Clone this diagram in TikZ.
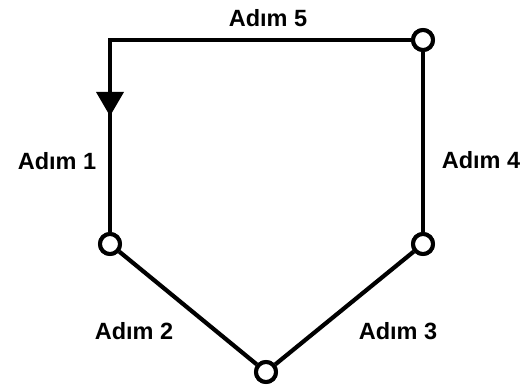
\documentclass[tikz,border=0pt]{standalone}
\usepackage{fontspec}
\setmainfont{Liberation Sans}
\usetikzlibrary{calc}
\begin{document}
\begin{tikzpicture}[x=1pt,y=1pt,
  ln/.style={line width=4.2pt},
  jn/.style={circle,draw,line width=4pt,fill=white,minimum size=20pt,inner sep=0pt},
  lbl/.style={font=\fontsize{23.5}{26}\selectfont\bfseries,inner sep=0pt}]
\useasboundingbox (0,0) rectangle (529,390);
\coordinate (corner) at (110,350);
\node[jn] (c5) at (423,350) {};
\node[jn] (c4) at (423,146) {};
\node[jn] (c1) at (110,146) {};
\node[jn] (cb) at (266,18) {};
\draw[ln] (c5) -- (corner) -- (c1);
\draw[ln] (c1) -- (cb);
\draw[ln] (cb) -- (c4);
\draw[ln] (c4) -- (c5);
\fill ($(corner)+(-14,-52)$) -- ($(corner)+(14,-52)$) -- ($(corner)+(0,-76)$) -- cycle;
\node[jn] at (c5) {};
\node[jn] at (c4) {};
\node[jn] at (c1) {};
\node[jn] at (cb) {};
\node[lbl] (l5) at (268,372) {Adım 5};
\node[lbl] (l1) at (57,229) {Adım 1};
\node[lbl] (l4) at (481,230) {Adım 4};
\node[lbl] (l2) at (134,59) {Adım 2};
\node[lbl] (l3) at (398,59) {Adım 3};
\end{tikzpicture}
\end{document}
